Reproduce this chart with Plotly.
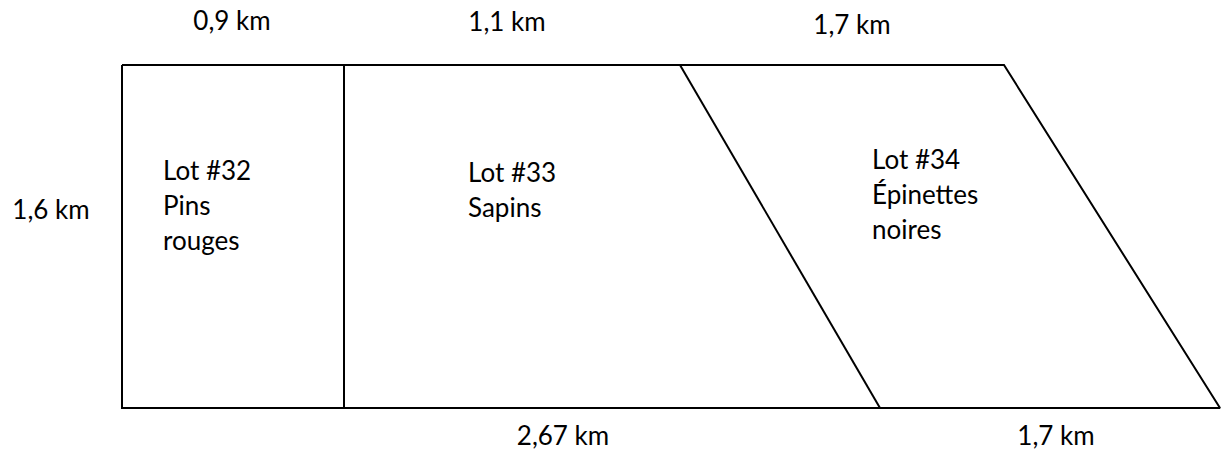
import plotly.graph_objects as go

# Diagram geometry (drawing units, y grows downward)
outline_x = [122, 1004, 1220, 122, 122]
outline_y = [65, 65, 408, 408, 65]
divider1_x = [344, 344]
divider1_y = [65, 408]
divider2_x = [680, 880]
divider2_y = [65, 408]

# Dimension labels
dim_labels = ["0,9 km", "1,1 km", "1,7 km", "1,6 km", "2,67 km", "1,7 km"]
dim_x = [232, 507, 852, 51, 563, 1056]
dim_y = [23, 24, 27, 212, 438, 438]

# Lot labels (one entry per text line)
lot_lines = ["Lot #32", "Pins", "rouges",
             "Lot #33", "Sapins",
             "Lot #34", "Épinettes", "noires"]
lot_x = [163, 163, 163, 468, 468, 872, 872, 872]
lot_y = [173, 208, 243, 175, 210, 162, 197, 232]

FONT = dict(family="Lato", size=26, color="black")

fig = go.Figure()
line = dict(color="black", width=2)
for xs, ys in [(outline_x, outline_y), (divider1_x, divider1_y), (divider2_x, divider2_y)]:
    fig.add_trace(go.Scatter(x=xs, y=ys, mode="lines", line=line,
                             hoverinfo="skip", showlegend=False))

fig.add_trace(go.Scatter(x=dim_x, y=dim_y, mode="text", text=dim_labels,
                         textposition="middle center", textfont=FONT,
                         hoverinfo="skip", showlegend=False, cliponaxis=False))

fig.add_trace(go.Scatter(x=lot_x, y=lot_y, mode="text", text=lot_lines,
                         textposition="middle right", textfont=FONT,
                         hoverinfo="skip", showlegend=False, cliponaxis=False))

fig.update_layout(
    width=1222, height=452,
    margin=dict(l=0, r=0, t=0, b=0),
    paper_bgcolor="white", plot_bgcolor="white",
    xaxis=dict(range=[0, 1222], visible=False, fixedrange=True),
    yaxis=dict(range=[452, 0], visible=False, fixedrange=True),
)
fig.write_html("out.html", config={"displayModeBar": False},
               post_script="document.body.style.margin='0';document.body.style.overflow='hidden';")
